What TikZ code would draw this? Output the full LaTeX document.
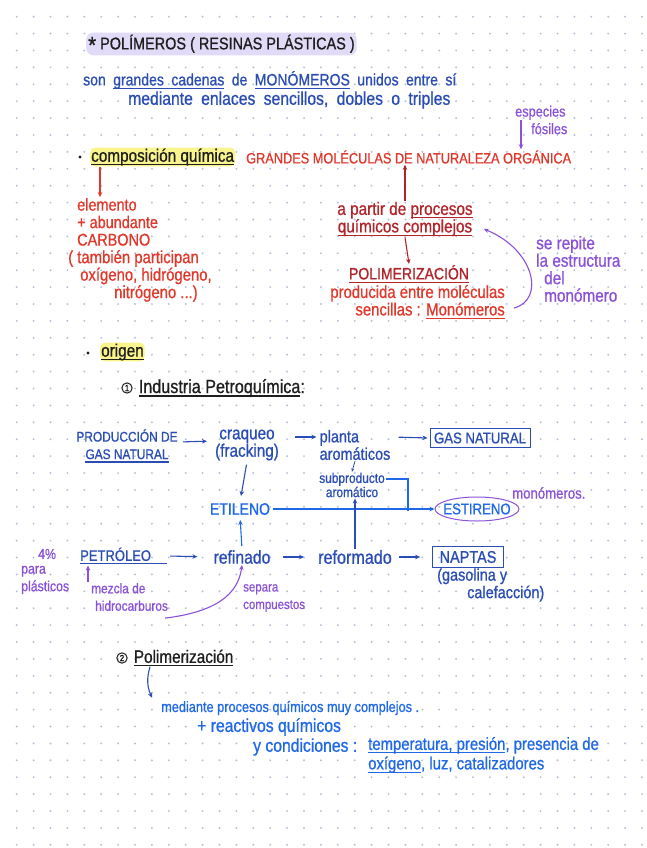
\documentclass[tikz,border=0pt]{standalone}
\usepackage{fontspec}
\setmainfont{Liberation Sans}
\newfontfamily\hand[FakeStretch=0.85,FakeBold=0.8]{Liberation Sans}
\newsavebox\hulbox
\newcommand{\hul}[1]{\sbox\hulbox{#1}\rlap{\raisebox{-3.5pt}{\rule{\wd\hulbox}{1.3pt}}}\usebox\hulbox}
\newcommand{\handat}[1]{\hand\fontsize{#1}{17.5}\selectfont}
\newcommand{\widesp}{\spaceskip=.45em plus .1em\relax}
\usetikzlibrary{arrows.meta,positioning,shapes.geometric}
\definecolor{inkblk}{HTML}{1E1E1E}
\definecolor{inkblu}{HTML}{2A4DB5}
\definecolor{inkbri}{HTML}{1F68E8}
\definecolor{inkred}{HTML}{E2382B}
\definecolor{inkdrd}{HTML}{B3242A}
\definecolor{inkpur}{HTML}{8B52D8}
\definecolor{hlyel}{HTML}{F9F48C}
\definecolor{hllil}{HTML}{E2DBF7}
\definecolor{griddot}{HTML}{B3C3DE}

\begin{document}
\begin{tikzpicture}[x=1pt,y=-1pt,
  txt/.style={font=\handat{18},inner sep=1pt,anchor=west,align=left},
  fs/.style={font=\handat{#1}},
  boxed/.style={draw,line width=1pt,inner sep=4pt},
  num/.style={circle,draw=inkblk,line width=1pt,inner sep=1pt,font=\hand\fontsize{9}{9}\selectfont},
  arr/.style={-{Stealth[length=5pt,width=4.5pt]},line width=1.1pt},
  parr/.style={arr,draw=inkpur}]
  % page and dots
  \fill[white] (0,0) rectangle (646,848);
  \useasboundingbox (0,0) rectangle (646,848);
  \foreach \i in {0,...,37}
    \foreach \j in {0,...,49}
      \fill[griddot] (16.7+16.9*\i,16.7+16.9*\j) circle (1.1);

  % title
  \node[txt,fs=17,text=inkblk,fill=hllil,rounded corners=7pt,inner sep=2pt] (title) at (86,44)
        {\raisebox{-4pt}{\fontsize{24}{24}\selectfont *}\ POLÍMEROS ( RESINAS PLÁSTICAS )};
  \node[txt,fs=16.5,text=inkblu] (intro1) at (82,80)
        {\widesp son \hul{grandes cadenas} de \hul{MONÓMEROS} unidos entre sí};
  \node[txt,fs=18.5,text=inkblu] (intro2) at (127,100)
        {\widesp mediante enlaces sencillos, dobles o triples};

  % composicion quimica
  \fill[inkblk] (80,157) circle (1.6);
  \node[txt,text=inkblk,fill=hlyel,rounded corners=5pt] (comp) at (90,157)
        {\hul{composición química}};
  \node[txt,fs=15,text=inkred] (grandes) at (245,157)
        {GRANDES MOLÉCULAS DE NATURALEZA ORGÁNICA};
  \node[txt,fs=15,text=inkpur] (esp) at (514,120) {especies\\\hspace*{16pt}fósiles};
  \draw[parr] ([xshift=7pt]esp.west) -- ([xshift=7pt]esp.west |- grandes.north);

  \node[txt,fs=17,text=inkred] (elem) at (76,222) {elemento\\+ abundante\\CARBONO};
  \node[txt,fs=17.5,text=inkred] (tamb) at (67,276)
        {( también participan\\\hspace*{12pt}oxígeno, hidrógeno,\\\hspace*{46pt}nitrógeno ...)};
  \draw[arr,inkred] ([xshift=24pt]elem.north west |- comp.south)
        -- ([xshift=24pt]elem.north west);

  \node[txt,text=inkdrd,align=center,anchor=center] (partir) at (405,219)
        {a partir de \hul{procesos}\\\hul{químicos complejos}};
  \node[txt,fs=16.5,text=inkdrd,anchor=center] (polim) at (409,274) {\hul{POLIMERIZACIÓN}};
  \node[txt,fs=17.5,text=inkred,align=right,anchor=east] (molec) at (506,302)
        {producida entre moléculas\\sencillas : \hul{Monómeros}};
  \node[txt,text=inkpur] (sere) at (535,269)
        {se repite\\la estructura\\\hspace*{8pt}del\\\hspace*{8pt}monómero};
  \draw[arr,inkdrd] (partir.north) -- (partir.north |- grandes.south);
  \draw[arr,inkdrd] (partir.south) -- (polim.north);
  \draw[parr] ([xshift=8pt,yshift=-6pt]molec.east) .. controls (545,300) and (535,250)
        .. ([xshift=10pt,yshift=-10pt]partir.east);

  % origen
  \fill[inkblk] (88,353) circle (1.6);
  \node[txt,text=inkblk,fill=hlyel,rounded corners=5pt] (orig) at (100,352) {\hul{origen}};
  \node[num] (n1) at (127,388) {1};
  \node[txt,fs=19,text=inkblk,right=5pt of n1] (indus) {\hul{Industria Petroquímica}:};

  % flow
  \node[txt,fs=14,text=inkblu,align=center,anchor=center] (prod) at (127,446)
        {PRODUCCIÓN DE\\\hul{GAS NATURAL}};
  \node[txt,text=inkblu,align=center,anchor=center] (craq) at (247,445) {craqueo\\(fracking)};
  \node[txt,fs=17,text=inkblu,anchor=center] (planta) at (355,445) {planta\\aromáticos};
  \node[txt,fs=15.5,boxed,text=inkblu,draw=inkblu,anchor=center] (gasn) at (480,438) {GAS NATURAL};
  \node[txt,font=\hand\fontsize{14}{13}\selectfont,text=inkblu,align=center,anchor=center] (sub)
        at (352,485) {subproducto\\aromático};
  \node[txt,fs=16.5,text=inkbri,anchor=center] (etil) at (240,509) {ETILENO};
  \node[txt,fs=15.5,text=inkbri,draw=inkpur,line width=1pt,ellipse,inner xsep=-4pt,
        inner ysep=3pt,anchor=center] (estir) at (477,509) {ESTIRENO};
  \node[txt,fs=15.5,text=inkpur] (mono) at (511,493) {monómeros.};
  \node[txt,fs=15.3,text=inkblu,anchor=west] (petro) at (79,556) {\hul{PETRÓLEO\hspace*{16pt}}};
  \node[txt,fs=18.5,text=inkblu,anchor=center] (refi) at (242,557) {refinado};
  \node[txt,fs=19,text=inkblu,anchor=center] (refo) at (355,557) {reformado};
  \node[txt,fs=17,boxed,inner xsep=7pt,text=inkblu,draw=inkblu,anchor=center] (nafta)
        at (468,557) {NAPTAS};
  \node[txt,fs=17,text=inkblu] (gasol) at (436,585) {(gasolina y\\\hspace*{30pt}calefacción)};
  \node[txt,fs=14.5,text=inkpur] (pct) at (37,554) {4\%};
  \node[txt,fs=14.5,text=inkpur] (para) at (20,580) {para\\plásticos};
  \node[txt,fs=14,text=inkpur] (mezcla) at (90,597) {mezcla de\\\hspace*{4pt}hidrocarburos};
  \node[txt,fs=13.5,text=inkpur] (separa) at (242,598) {separa\\compuestos};

  \draw[arr,inkblu,shorten <=4pt,shorten >=7pt] ([yshift=4pt]prod.east) -- ([yshift=4pt]craq.west);
  \draw[arr,inkblu,shorten <=15pt,shorten >=2pt] ([yshift=8pt]craq.east) -- ([yshift=8pt]planta.west);
  \draw[arr,inkblu,shorten <=7pt,shorten >=2pt] ([yshift=8pt]planta.east) -- (gasn.west);
  \draw[arr,inkblu,shorten <=3pt,shorten >=6pt] (craq.south) -- (etil.north);
  \draw[-{Stealth[length=3pt,width=3pt]},inkblu,line width=0.8pt] (planta.south) -- (sub.north);
  \coordinate (join) at (408,511);
  \draw[inkbri,line width=1.3pt] ([yshift=6pt]sub.east) -| (join);
  \draw[arr,inkbri,line width=2pt,shorten <=2pt] (etil.east) -- (estir.west);
  \draw[arr,inkblu] (refo.north) -- (refo.north |- sub.south);
  \draw[arr,inkbri,shorten <=3pt,shorten >=4pt] (refi.north) -- (etil.south);
  \draw[arr,inkblu,shorten <=2pt,shorten >=15pt] (petro.east) -- (refi.west);
  \draw[arr,inkblu,shorten <=11pt,shorten >=13pt] (refi.east) -- (refo.west);
  \draw[arr,inkblu,shorten <=6pt,shorten >=12pt] (refo.east) -- (nafta.west);
  \draw[parr] ([xshift=-2pt]mezcla.north west) -- ([xshift=9pt]petro.south west);
  \draw[parr] ([xshift=-4pt,yshift=-6pt]mezcla.south east) .. controls (215,612) and (238,595)
        .. (refi.south);

  % polimerizacion
  \node[num] (n2) at (122,658) {2};
  \node[txt,text=inkblk,right=5pt of n2] (pol2) {\hul{Polimerización}};
  \node[txt,fs=15,text=inkbri] (med) at (160,708) {mediante procesos químicos muy complejos .};
  \node[txt,fs=18.5,text=inkbri] (react) at (196,727) {+ reactivos químicos};
  \node[txt,fs=18.5,text=inkbri] (cond) at (252,747) {y condiciones :};
  \node[txt,font=\hand\fontsize{17.5}{19.5}\selectfont,text=inkbri] (temp) at (367,755)
        {\hul{temperatura, presión}, presencia de\\\hul{oxígeno}, luz, catalizadores};
  \draw[arr,inkblu] ([xshift=28pt,yshift=-3pt]n2.south) to[bend right=20]
        ([xshift=-8pt,yshift=2pt]med.north west);
\end{tikzpicture}
\end{document}
